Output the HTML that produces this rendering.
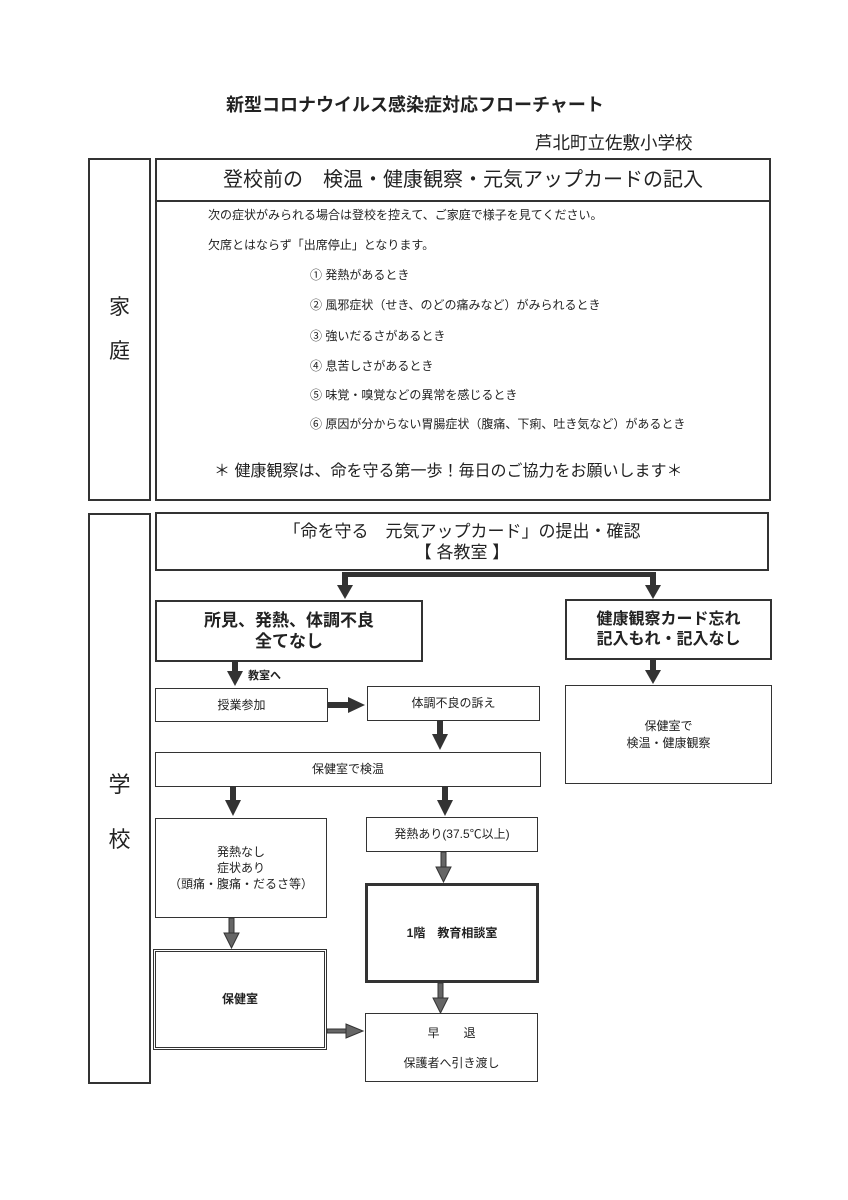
<!DOCTYPE html>
<html><head><meta charset="utf-8"><style>
body{margin:0;background:#fff;width:848px;height:1200px;position:relative;overflow:hidden;font-family:"Liberation Sans","Noto Sans CJK JP",sans-serif;color:#222}
.b{position:absolute;box-sizing:border-box;border:1.5px solid #333;display:flex;align-items:center;justify-content:center;text-align:center;flex-direction:column;font-size:12px;line-height:1.35}
.t{position:absolute;white-space:nowrap}
</style></head><body>
<div class="t" style="left:226px;top:91px;font-size:18px;font-weight:bold">新型コロナウイルス感染症対応フローチャート</div>
<div class="t" style="left:535px;top:130px;font-size:17.5px">芦北町立佐敷小学校</div>

<div class="b" style="left:88px;top:158px;width:63px;height:343px;border-width:2px;font-size:21px;line-height:44px">家<br>庭</div>
<div class="b" style="left:155px;top:158px;width:616px;height:343px;border-width:2px"></div>
<div class="b" style="left:155px;top:158px;width:616px;height:44px;border-width:2px;font-size:20px">登校前の　検温・健康観察・元気アップカードの記入</div>
<div class="t" style="left:208px;top:206px;font-size:12px">次の症状がみられる場合は登校を控えて、ご家庭で様子を見てください。</div>
<div class="t" style="left:208px;top:236px;font-size:12px">欠席とはならず「出席停止」となります。</div>
<div class="t" style="left:310px;top:266px;font-size:12px">① 発熱があるとき</div>
<div class="t" style="left:310px;top:296px;font-size:12px">② 風邪症状（せき、のどの痛みなど）がみられるとき</div>
<div class="t" style="left:310px;top:327px;font-size:12px">③ 強いだるさがあるとき</div>
<div class="t" style="left:310px;top:357px;font-size:12px">④ 息苦しさがあるとき</div>
<div class="t" style="left:310px;top:386px;font-size:12px">⑤ 味覚・嗅覚などの異常を感じるとき</div>
<div class="t" style="left:310px;top:415px;font-size:12px">⑥ 原因が分からない胃腸症状（腹痛、下痢、吐き気など）があるとき</div>
<div class="t" style="left:214px;top:457px;font-size:16px">＊ 健康観察は、命を守る第一歩！毎日のご協力をお願いします＊</div>

<div class="b" style="left:88px;top:513px;width:63px;height:571px;border-width:2px;font-size:22px;justify-content:flex-start;padding-top:242px;line-height:55px">学<br>校</div>
<div class="b" style="left:155px;top:512px;width:614px;height:59px;border-width:2px;font-size:17px;line-height:21px">「命を守る　元気アップカード」の提出・確認<br>【 各教室 】</div>

<div class="b" style="left:155px;top:600px;width:268px;height:62px;border-width:2px;font-size:17px;font-weight:bold;line-height:21px">所見、発熱、体調不良<br>全てなし</div>
<div class="b" style="left:565px;top:599px;width:207px;height:61px;border-width:2px;font-size:16px;font-weight:bold;line-height:20px">健康観察カード忘れ<br>記入もれ・記入なし</div>
<div class="b" style="left:565px;top:685px;width:207px;height:99px">保健室で<br>検温・健康観察</div>
<div class="t" style="left:248px;top:667px;font-size:11px;font-weight:bold">教室へ</div>
<div class="b" style="left:155px;top:688px;width:173px;height:34px">授業参加</div>
<div class="b" style="left:367px;top:686px;width:173px;height:35px">体調不良の訴え</div>
<div class="b" style="left:155px;top:752px;width:386px;height:35px">保健室で検温</div>
<div class="b" style="left:155px;top:818px;width:172px;height:100px">発熱なし<br>症状あり<br>（頭痛・腹痛・だるさ等）</div>
<div class="b" style="left:366px;top:817px;width:172px;height:35px">発熱あり(37.5℃以上)</div>
<div class="b" style="left:365px;top:883px;width:174px;height:100px;border-width:3px;font-weight:bold">1階　教育相談室</div>
<div class="b" style="left:153px;top:949px;width:174px;height:101px;border:3px double #333;font-weight:bold">保健室</div>
<div class="b" style="left:365px;top:1013px;width:173px;height:69px;line-height:30px">早　　退<br>保護者へ引き渡し</div>

<svg width="848" height="1200" style="position:absolute;left:0;top:0" xmlns="http://www.w3.org/2000/svg">
<g fill="#333" stroke="none">
<rect x="342" y="572" width="314" height="5"/>
<rect x="342" y="572" width="6" height="14"/><polygon points="337,585 353,585 345,599"/>
<rect x="650" y="572" width="6" height="14"/><polygon points="645,585 661,585 653,599"/>
<rect x="650" y="660" width="6" height="12"/><polygon points="645,670 661,670 653,684"/>
<rect x="232" y="662" width="6" height="10"/><polygon points="227,671 243,671 235,686"/>
<rect x="328" y="702" width="22" height="6"/><polygon points="348,697 348,713 365,705"/>
<rect x="437" y="721" width="6" height="15"/><polygon points="432,734 448,734 440,750"/>
<rect x="230" y="787" width="6" height="15"/><polygon points="225,800 241,800 233,816"/>
<rect x="442" y="787" width="6" height="15"/><polygon points="437,800 453,800 445,816"/>
</g>
<g fill="#666" stroke="#333" stroke-width="1">
<rect x="441" y="852" width="5" height="16"/><polygon points="436,867 451,867 443.5,882"/>
<rect x="438" y="983" width="5" height="16"/><polygon points="433,998 448,998 440.5,1013"/>
<rect x="229" y="918" width="5" height="16"/><polygon points="224,933 239,933 231.5,948"/>
<rect x="327" y="1029" width="20" height="4"/><polygon points="346,1024 346,1038 363,1031"/>
</g>
</svg>
</body></html>
